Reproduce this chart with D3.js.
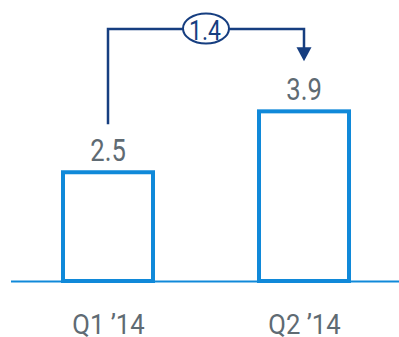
<!DOCTYPE html>
<html>
<head>
<meta charset="utf-8">
<script src="https://cdn.jsdelivr.net/npm/d3@7"></script>
<style>
  html, body { margin: 0; padding: 0; background: #fff; }
  svg { display: block; }
  text { font-family: Roboto, "Noto Sans", sans-serif; }
</style>
</head>
<body>
<svg id="chart" width="399" height="337"></svg>
<script>
const categories = ["Q1 \u201914", "Q2 \u201914"];
const values = [2.5, 3.9];
const valueLabels = ["2.5", "3.9"];
const changeLabel = "1.4";

const W = 399, H = 337;
const svg = d3.select("#chart");

const x = d3.scalePoint().domain(categories).range([108, 304]);
const y = d3.scaleLinear().domain([0, 4]).range([281, 107]);
const barW = 90;

const barColor = "#1089d9";
const textColor = "#5f6b73";
const navy = "#163e80";

// bars
svg.selectAll("rect.bar").data(values).enter().append("rect")
  .attr("class", "bar")
  .attr("x", (d, i) => x(categories[i]) - barW / 2)
  .attr("y", d => y(d))
  .attr("width", barW)
  .attr("height", d => y(0) - y(d))
  .attr("fill", "#fff")
  .attr("stroke", barColor)
  .attr("stroke-width", 4);

// baseline
svg.append("line")
  .attr("x1", 11).attr("x2", W)
  .attr("y1", y(0) + 0.5).attr("y2", y(0) + 0.5)
  .attr("stroke", barColor).attr("stroke-width", 2);

// value labels
svg.selectAll("text.val").data(values).enter().append("text")
  .attr("class", "val")
  .attr("transform", (d, i) => `translate(${x(categories[i])},${y(d) - 11}) scale(0.8,1)`)
  .attr("text-anchor", "middle")
  .attr("font-size", 32)
  .attr("fill", textColor)
  .text((d, i) => valueLabels[i]);

// x axis labels
const xAxis = d3.axisBottom(x).tickSize(0).tickPadding(0);
const ax = svg.append("g").attr("transform", `translate(0,${y(0)})`).call(xAxis);
ax.select(".domain").remove();
ax.selectAll(".tick text")
  .attr("y", 0).attr("dy", 0)
  .attr("transform", "translate(0,53) scale(0.9,1)")
  .attr("font-size", 28.5)
  .attr("fill", textColor);

// bracket
const topY = 29;
const x1 = x(categories[0]), x2 = x(categories[1]);
const startY = y(values[0]) - 48;
const tipY = y(values[1]) - 50;
svg.append("path")
  .attr("d", `M${x1},${startY} V${topY} H${x2} V${tipY - 12}`)
  .attr("fill", "none")
  .attr("stroke", navy)
  .attr("stroke-width", 2.5);
svg.append("path")
  .attr("d", `M${x2 - 7.5},${tipY - 14} L${x2 + 7.5},${tipY - 14} L${x2},${tipY} Z`)
  .attr("fill", navy);

const cx = (x1 + x2) / 2;
svg.append("ellipse")
  .attr("cx", cx).attr("cy", topY - 0.5)
  .attr("rx", 23).attr("ry", 15)
  .attr("fill", "#fff")
  .attr("stroke", navy)
  .attr("stroke-width", 2);
svg.append("text")
  .attr("transform", `translate(${cx - 1},${topY + 11}) scale(0.82,1)`)
  .attr("text-anchor", "middle")
  .attr("font-size", 28)
  .attr("fill", navy)
  .text(changeLabel);
</script>
</body>
</html>
